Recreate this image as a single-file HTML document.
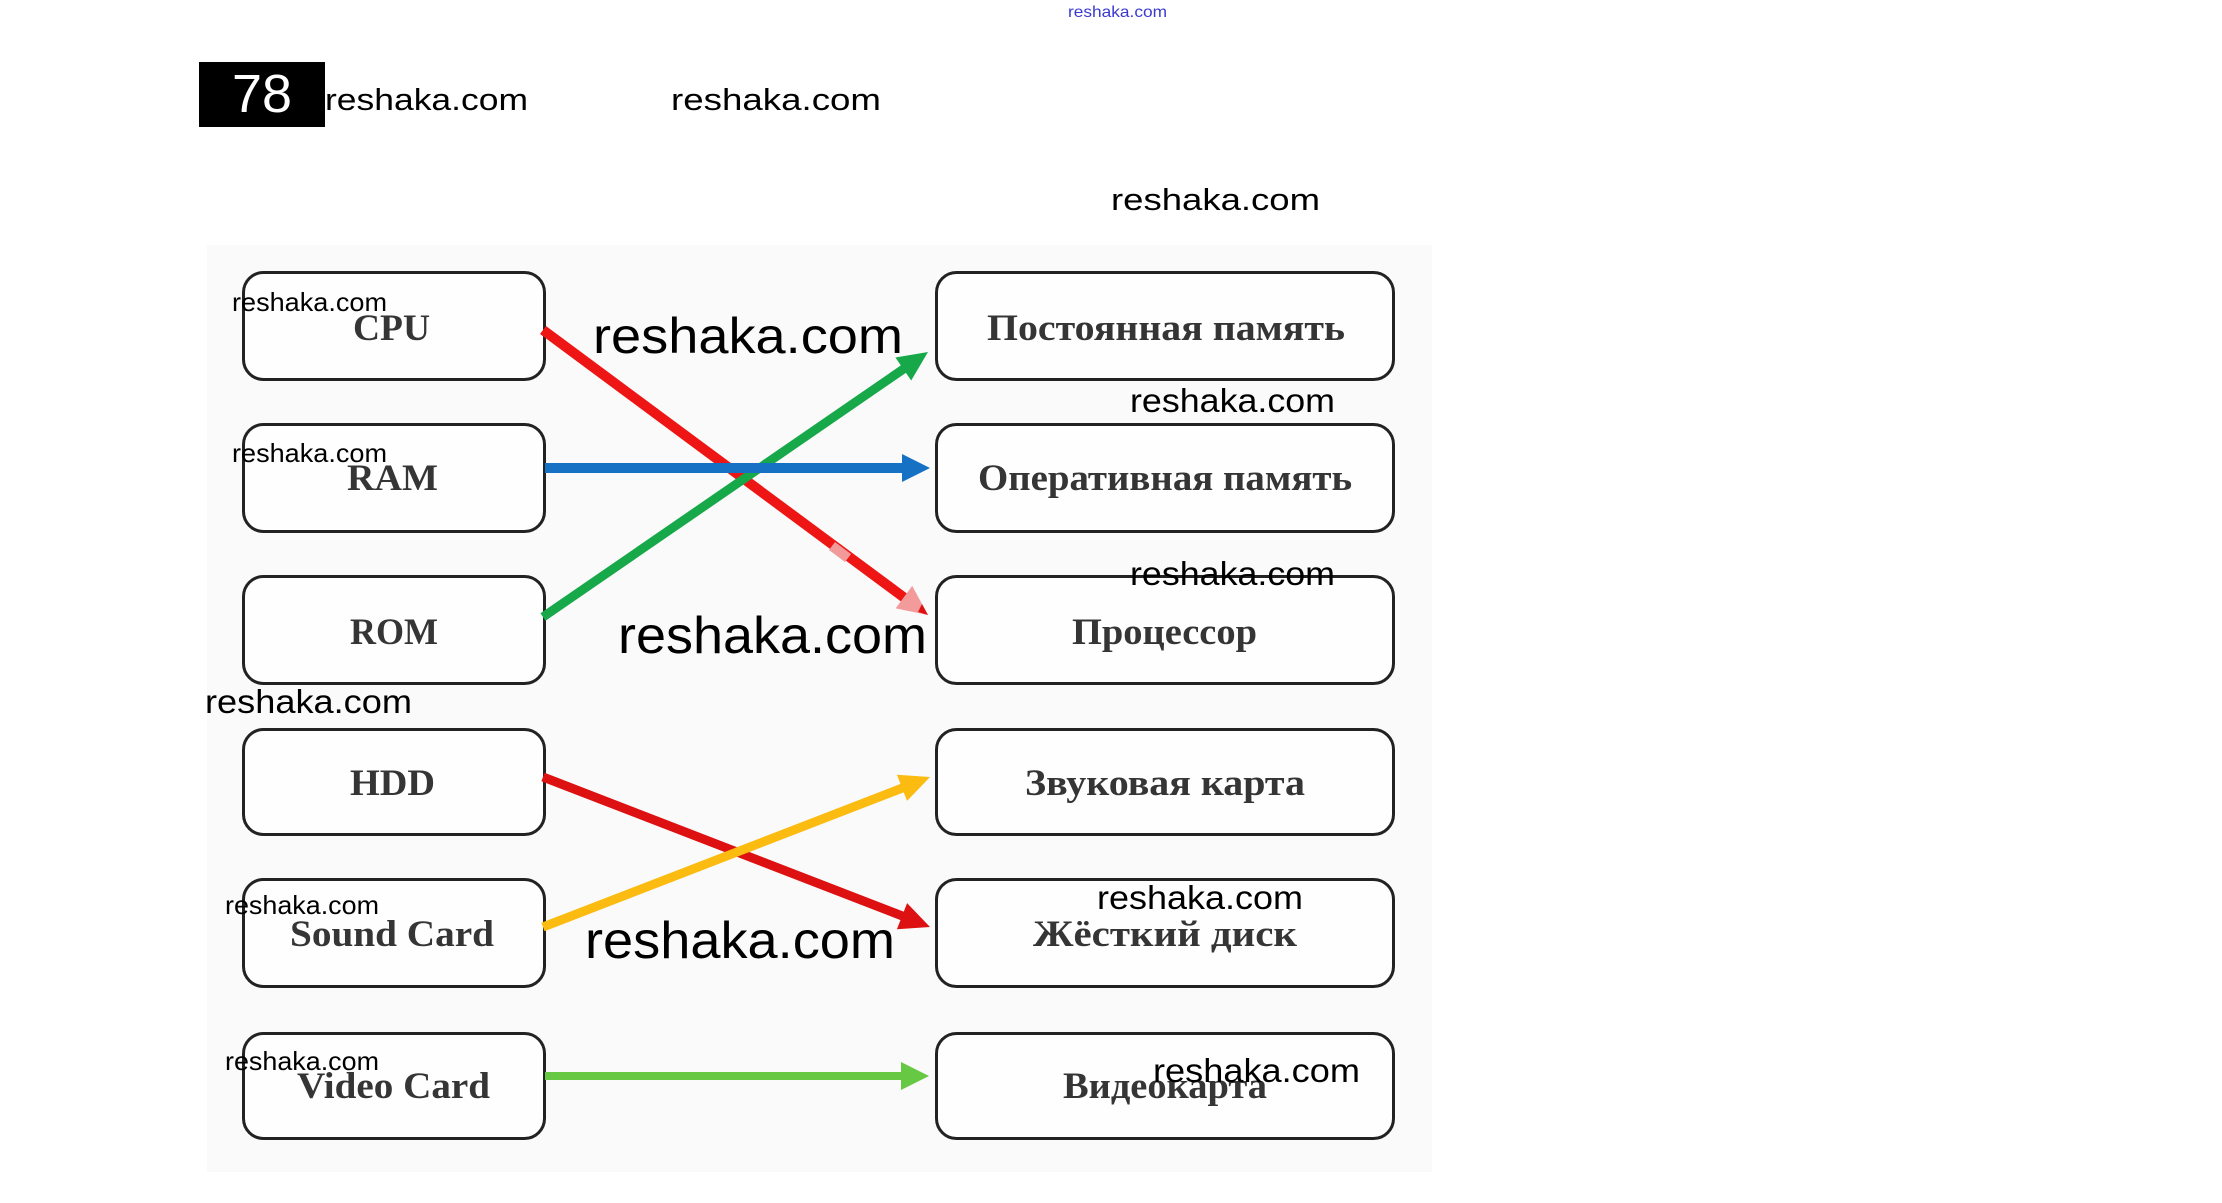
<!DOCTYPE html>
<html>
<head>
<meta charset="utf-8">
<style>
  html,body{margin:0;padding:0;background:#ffffff;}
  svg{display:block;}
  .wm{font-family:"Liberation Sans",sans-serif;fill:#000;}
  .bx{font-family:"Liberation Serif","Noto Serif CJK SC",serif;font-weight:bold;fill:#353535;font-size:37px;}
  .box{fill:#fefefe;stroke:#222;stroke-width:3;}
</style>
</head>
<body>
<svg width="2222" height="1203" viewBox="0 0 2222 1203" xmlns="http://www.w3.org/2000/svg">
  <rect x="0" y="0" width="2222" height="1203" fill="#ffffff"/>

  <!-- top small blue watermark -->
  <text x="1068" y="17" font-family="Liberation Sans, sans-serif" font-size="16" fill="#3a3ad0" textLength="99" lengthAdjust="spacingAndGlyphs">reshaka.com</text>

  <!-- header -->
  <rect x="199" y="62" width="126" height="65" fill="#000"/>
  <text x="232" y="112" font-family="Liberation Sans, sans-serif" font-size="54" fill="#fff" textLength="60" lengthAdjust="spacingAndGlyphs">78</text>
  <text class="wm" x="325" y="110" font-size="31" textLength="203" lengthAdjust="spacingAndGlyphs">reshaka.com</text>
  <text class="wm" x="671" y="110" font-size="31" textLength="210" lengthAdjust="spacingAndGlyphs">reshaka.com</text>
  <text class="wm" x="1111" y="210" font-size="31" textLength="209" lengthAdjust="spacingAndGlyphs">reshaka.com</text>

  <!-- panel -->
  <rect x="207" y="245" width="1225" height="927" fill="#fafafa"/>

  <!-- left boxes -->
  <rect class="box" x="243.5" y="272.5" width="301" height="107" rx="20" ry="20"/>
  <rect class="box" x="243.5" y="424.5" width="301" height="107" rx="20" ry="20"/>
  <rect class="box" x="243.5" y="576.5" width="301" height="107" rx="20" ry="20"/>
  <rect class="box" x="243.5" y="729.5" width="301" height="105" rx="20" ry="20"/>
  <rect class="box" x="243.5" y="879.5" width="301" height="107" rx="20" ry="20"/>
  <rect class="box" x="243.5" y="1033.5" width="301" height="105" rx="20" ry="20"/>

  <!-- right boxes -->
  <rect class="box" x="936.5" y="272.5" width="457" height="107" rx="20" ry="20"/>
  <rect class="box" x="936.5" y="424.5" width="457" height="107" rx="20" ry="20"/>
  <rect class="box" x="936.5" y="576.5" width="457" height="107" rx="20" ry="20"/>
  <rect class="box" x="936.5" y="729.5" width="457" height="105" rx="20" ry="20"/>
  <rect class="box" x="936.5" y="879.5" width="457" height="107" rx="20" ry="20"/>
  <rect class="box" x="936.5" y="1033.5" width="457" height="105" rx="20" ry="20"/>

  <!-- left labels -->
  <text class="bx" x="353" y="340" textLength="77" lengthAdjust="spacingAndGlyphs">CPU</text>
  <text class="bx" x="347" y="490" textLength="91" lengthAdjust="spacingAndGlyphs">RAM</text>
  <text class="bx" x="350" y="644" textLength="88" lengthAdjust="spacingAndGlyphs">ROM</text>
  <text class="bx" x="350" y="795" textLength="85" lengthAdjust="spacingAndGlyphs">HDD</text>
  <text class="bx" x="290" y="946" textLength="204" lengthAdjust="spacingAndGlyphs">Sound Card</text>
  <text class="bx" x="297" y="1098" textLength="193" lengthAdjust="spacingAndGlyphs">Video Card</text>

  <!-- right labels -->
  <text class="bx" x="987" y="340" textLength="358" lengthAdjust="spacingAndGlyphs">Постоянная память</text>
  <text class="bx" x="978" y="490" textLength="374" lengthAdjust="spacingAndGlyphs">Оперативная память</text>
  <text class="bx" x="1072" y="644" textLength="185" lengthAdjust="spacingAndGlyphs">Процессор</text>
  <text class="bx" x="1025" y="795" textLength="280" lengthAdjust="spacingAndGlyphs">Звуковая карта</text>
  <text class="bx" x="1033" y="946" textLength="264" lengthAdjust="spacingAndGlyphs">Жёсткий диск</text>
  <text class="bx" x="1063" y="1098" textLength="204" lengthAdjust="spacingAndGlyphs">Видеокарта</text>

  <!-- arrows -->
  <!-- red CPU -> Процессор -->
  <line x1="543" y1="330" x2="906" y2="599" stroke="#ee1515" stroke-width="10"/>
  <line x1="832" y1="546" x2="848" y2="558" stroke="#f29a9a" stroke-width="10"/>
  <polygon points="928,615 895.6,608.4 912.2,585.9" fill="#f39b9b"/>
  <polygon points="928,615 918,612 922,604" fill="#e01010"/>
  <!-- green ROM -> Постоянная -->
  <line x1="543" y1="617" x2="905" y2="368" stroke="#17a84a" stroke-width="9"/>
  <polygon points="928,352 911.2,380.5 895.4,357.5" fill="#17a84a"/>
  <!-- blue RAM -> Оперативная -->
  <line x1="545" y1="468" x2="905" y2="468" stroke="#1670c4" stroke-width="10"/>
  <polygon points="902,454 902,482 930,468" fill="#1670c4"/>
  <!-- red HDD -> Жёсткий -->
  <line x1="543" y1="777" x2="905" y2="917" stroke="#dd1111" stroke-width="9"/>
  <polygon points="930,927 896.9,929.2 907.1,903.1" fill="#dd1111"/>
  <!-- yellow Sound -> Звуковая -->
  <line x1="543" y1="927" x2="905" y2="787" stroke="#fbbb10" stroke-width="9"/>
  <polygon points="930,777 907.1,800.9 896.9,774.8" fill="#fbbb10"/>
  <!-- light green Video -> Видеокарта -->
  <line x1="545" y1="1076" x2="905" y2="1076" stroke="#66c843" stroke-width="8"/>
  <polygon points="901,1062 901,1090 929,1076" fill="#66c843"/>

  <!-- diagram watermarks -->
  <text class="wm" x="232" y="311" font-size="26" textLength="155" lengthAdjust="spacingAndGlyphs">reshaka.com</text>
  <text class="wm" x="232" y="462" font-size="26" textLength="155" lengthAdjust="spacingAndGlyphs">reshaka.com</text>
  <text class="wm" x="225" y="914" font-size="26" textLength="154" lengthAdjust="spacingAndGlyphs">reshaka.com</text>
  <text class="wm" x="225" y="1070" font-size="26" textLength="154" lengthAdjust="spacingAndGlyphs">reshaka.com</text>

  <text class="wm" x="1130" y="412" font-size="33" textLength="205" lengthAdjust="spacingAndGlyphs">reshaka.com</text>
  <text class="wm" x="1130" y="585" font-size="33" textLength="205" lengthAdjust="spacingAndGlyphs">reshaka.com</text>
  <text class="wm" x="205" y="713" font-size="33" textLength="207" lengthAdjust="spacingAndGlyphs">reshaka.com</text>
  <text class="wm" x="1097" y="909" font-size="33" textLength="206" lengthAdjust="spacingAndGlyphs">reshaka.com</text>
  <text class="wm" x="1153" y="1082" font-size="33" textLength="207" lengthAdjust="spacingAndGlyphs">reshaka.com</text>

  <text class="wm" x="593" y="353" font-size="50" textLength="310" lengthAdjust="spacingAndGlyphs">reshaka.com</text>
  <text class="wm" x="618" y="653" font-size="52" textLength="309" lengthAdjust="spacingAndGlyphs">reshaka.com</text>
  <text class="wm" x="585" y="958" font-size="52" textLength="310" lengthAdjust="spacingAndGlyphs">reshaka.com</text>
</svg>
</body>
</html>
